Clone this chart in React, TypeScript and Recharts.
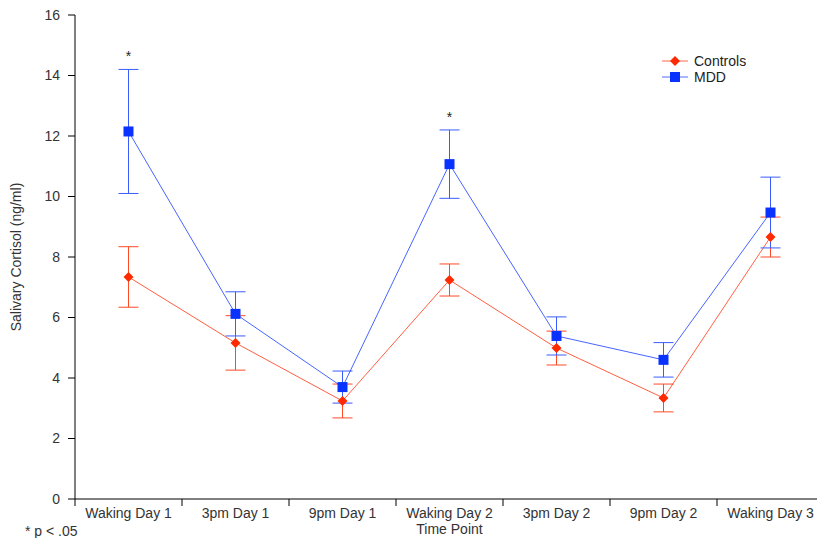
import { ErrorBar, Legend, Line, LineChart, ReferenceDot, XAxis, YAxis } from "recharts"

const timePoints = [
  "Waking Day 1",
  "3pm Day 1",
  "9pm Day 1",
  "Waking Day 2",
  "3pm Day 2",
  "9pm Day 2",
  "Waking Day 3",
]
const controls = [7.34, 5.16, 3.24, 7.24, 4.99, 3.34, 8.66]
const controlsErr = [1.0, 0.9, 0.56, 0.53, 0.56, 0.46, 0.66]
const mdd = [12.15, 6.12, 3.7, 11.07, 5.39, 4.6, 9.47]
const mddErr = [2.05, 0.73, 0.53, 1.13, 0.63, 0.57, 1.17]
const significant = [true, false, false, true, false, false, false]
const yTicks = [0, 2, 4, 6, 8, 10, 12, 14, 16]
const boundaryTicks = [0, 1, 2, 3, 4, 5, 6, 7]

const RED = "#ff2a00"
const BLUE = "#0a32ff"

const data = timePoints.map((name, i) => ({
  x: i + 0.5,
  name,
  controls: controls[i],
  controlsErr: controlsErr[i],
  mdd: mdd[i],
  mddErr: mddErr[i],
}))

const Diamond = (props: any) => {
  const { cx, cy } = props
  if (cx == null || cy == null) return null
  return (
    <polygon
      points={`${cx},${cy - 5} ${cx + 5},${cy} ${cx},${cy + 5} ${cx - 5},${cy}`}
      fill={RED}
    />
  )
}

const Square = (props: any) => {
  const { cx, cy } = props
  if (cx == null || cy == null) return null
  return <rect x={cx - 5} y={cy - 5} width={10} height={10} fill={BLUE} />
}

const legendItems = [
  { label: "Controls", color: RED, shape: "diamond" },
  { label: "MDD", color: BLUE, shape: "square" },
]

function LegendBox() {
  return (
    <div>
      {legendItems.map((it) => (
        <div key={it.label} style={{ display: "flex", alignItems: "center", height: 16 }}>
          <svg width={28} height={12}>
            <line x1={0} x2={26} y1={6} y2={6} stroke={it.color} strokeOpacity={0.7} />
            {it.shape === "diamond" ? (
              <polygon points="13,1 18,6 13,11 8,6" fill={it.color} />
            ) : (
              <rect x={8} y={1} width={10} height={10} fill={it.color} />
            )}
          </svg>
          <span style={{ fontSize: 14, color: "#222", marginLeft: 4 }}>{it.label}</span>
        </div>
      ))}
    </div>
  )
}

const Star = (props: any) => {
  const { viewBox } = props
  if (!viewBox) return null
  return (
    <text x={viewBox.x} y={viewBox.y - 8} textAnchor="middle" fontSize={14} fill="#222">
      *
    </text>
  )
}

export default function App() {
  return (
    <div
      style={{
        position: "absolute",
        left: 0,
        top: 0,
        width: 817,
        height: 538,
        overflow: "hidden",
        fontFamily: "'Liberation Sans', Arial, sans-serif",
        background: "#fff",
      }}
    >
      <LineChart
        width={830}
        height={538}
        data={data}
        margin={{ top: 15, right: 6, bottom: 8, left: 0 }}
      >
        <XAxis
          xAxisId="b_labels"
          dataKey="x"
          type="number"
          domain={[0, 7]}
          ticks={data.map((d) => d.x)}
          tickFormatter={(v: number) => timePoints[Math.round(v - 0.5)]}
          axisLine={false}
          tickLine={false}
          tickSize={0}
          tickMargin={8}
          height={30}
          interval={0}
          tick={{ fill: "#333", fontSize: 14 }}
          label={{ value: "Time Point", position: "insideBottom", offset: -4, fill: "#333", fontSize: 14 }}
        />
        <XAxis
          xAxisId="a_ticks"
          dataKey="x"
          type="number"
          domain={[0, 7]}
          ticks={boundaryTicks}
          tickFormatter={() => ""}
          tickSize={7}
          height={1}
          stroke="#000"
        />
        <YAxis
          domain={[0, 16]}
          ticks={yTicks}
          width={75}
          tickSize={7}
          tickMargin={8}
          stroke="#000"
          tick={{ fill: "#333", fontSize: 14 }}
          label={{
            value: "Salivary Cortisol (ng/ml)",
            angle: -90,
            position: "insideLeft",
            offset: 16,
            fill: "#333",
            fontSize: 14,
            style: { textAnchor: "middle" },
          }}
        />
        <Legend
          layout="vertical"
          align="center"
          verticalAlign="middle"
          content={<LegendBox />}
          wrapperStyle={{ top: 53, left: 662, width: 110 }}
        />
        <Line
          xAxisId="b_labels"
          dataKey="controls"
          stroke={RED}
          strokeOpacity={0.75}
          strokeWidth={1}
          dot={<Diamond />}
          activeDot={false}
          isAnimationActive={false}
        >
          <ErrorBar dataKey="controlsErr" width={10} stroke="#ff4a26" strokeWidth={1} />
        </Line>
        <Line
          xAxisId="b_labels"
          dataKey="mdd"
          stroke={BLUE}
          strokeOpacity={0.75}
          strokeWidth={1}
          dot={<Square />}
          activeDot={false}
          isAnimationActive={false}
        >
          <ErrorBar dataKey="mddErr" width={10} stroke="#3a5cff" strokeWidth={1} />
        </Line>
        {data
          .filter((_, i) => significant[i])
          .map((d) => (
            <ReferenceDot
              key={d.name}
              xAxisId="b_labels"
              x={d.x}
              y={d.mdd + d.mddErr}
              r={0}
              stroke="none"
              label={<Star />}
            />
          ))}
      </LineChart>
      <div
        style={{
          position: "absolute",
          left: 25,
          top: 523,
          fontSize: 14,
          color: "#333",
          lineHeight: "16px",
        }}
      >
        * p &lt; .05
      </div>
    </div>
  )
}
